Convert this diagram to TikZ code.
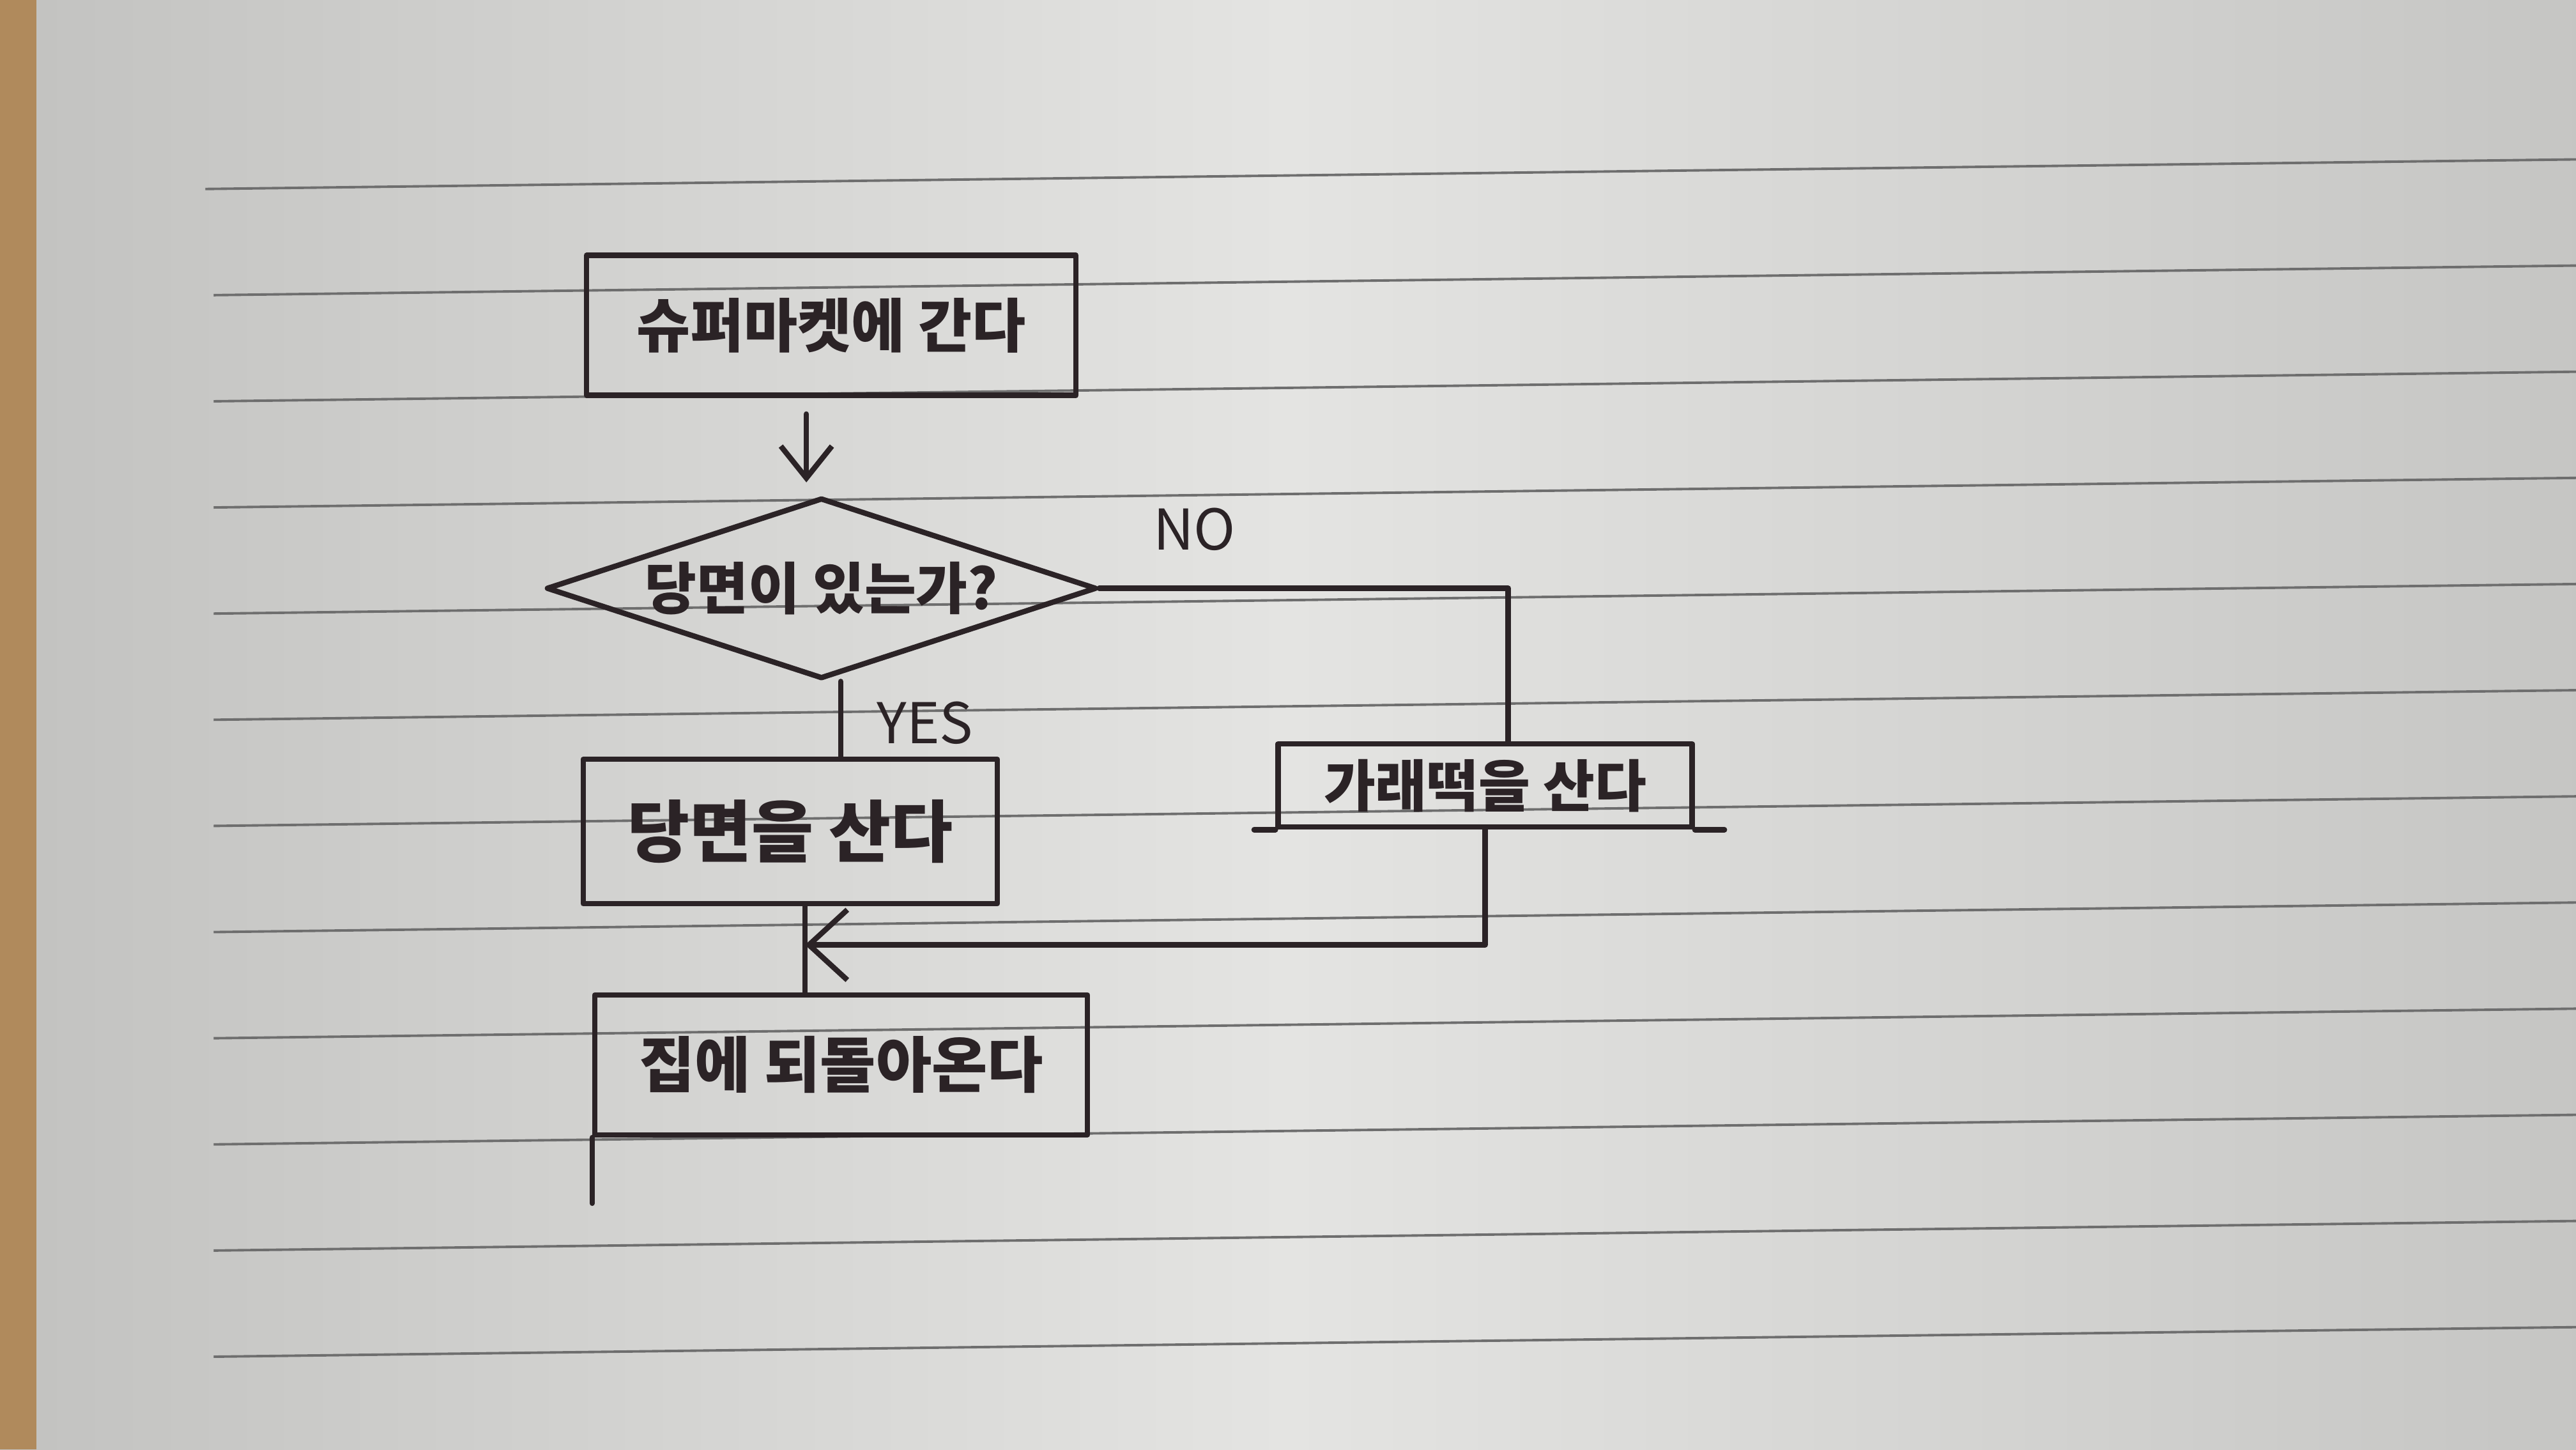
\documentclass[tikz,border=0pt]{standalone}
\usepackage{fontspec}
\newfontfamily\kr{Noto Sans CJK KR}
\usetikzlibrary{shapes.geometric,arrows.meta}
\definecolor{ink}{HTML}{2B2326}
\definecolor{paperA}{HTML}{C2C2C0}
\definecolor{paperB}{HTML}{E4E4E2}
\definecolor{rule}{HTML}{6E6E6E}
\definecolor{table}{HTML}{B08A5C}
\begin{document}
\begin{tikzpicture}[x=0.025714cm,y=-0.025714cm,
  pen/.style={line width=2.4pt, draw=ink, line cap=round, line join=round},
  procbox/.style={pen, rectangle, inner sep=0pt, text=ink, font=\kr\bfseries\fontsize{26}{30}\selectfont},
  decbox/.style={pen, diamond, inner sep=0pt, aspect=3, text=ink, font=\kr\bfseries\fontsize{25}{29}\selectfont},
  lbl/.style={text=ink, font=\kr\fontsize{25}{29}\selectfont, inner sep=0pt},
  downarrow/.style={pen, -{Straight Barb[length=0.5cm,width=0.8cm,line width=2.4pt]}},
  leftarrow/.style={pen, -{Straight Barb[length=0.6cm,width=1.1cm,line width=2.4pt]}},
  ruling/.style={draw=rule, line width=1.1pt}]
% paper
\useasboundingbox (0,0) rectangle (1568,882);
\shade[left color=paperA, right color=paperB] (0,0) rectangle (784,882);
\shade[left color=paperB, right color=paperA!90!paperB] (784,0) rectangle (1568,882);
\fill[table] (0,0) rectangle (22,882);
% ruled lines
\draw[ruling] (125,115) -- (1568,97);
\foreach \i in {1,...,11}{
  \draw[ruling] (130,{115+64.6*\i}) -- (1568,{97+64.6*\i});
}
% nodes
\node[procbox, minimum width=7.66cm, minimum height=2.19cm] (go) at (506,198) {슈퍼마켓에 간다};
\node[decbox, minimum width=8.61cm, minimum height=2.83cm] (q) at (500,358) {당면이 있는가?};
\node[procbox, minimum width=6.48cm, minimum height=2.26cm, font=\kr\bfseries\fontsize{30}{34}\selectfont] (yes) at (481,506) {당면을 산다};
\node[procbox, minimum width=6.48cm, minimum height=1.3cm, font=\kr\bfseries\fontsize{25}{29}\selectfont] (no) at (904,478) {가래떡을 산다};
\node[procbox, minimum width=7.71cm, minimum height=2.19cm, font=\kr\bfseries\fontsize{27}{31}\selectfont] (home) at (512,648) {집에 되돌아온다};
% labels
\node[lbl] (lyes) at (563,440) {YES};
\node[lbl] (lno) at (727,322) {NO};
% connectors
\draw[downarrow, shorten <=0.25cm, shorten >=0.2cm] ([xshift=-0.39cm]go.south) -- ([xshift=-0.39cm]go.south |- q.north);
\draw[pen] ([xshift=0.3cm]q.south) -- ([xshift=0.3cm]q.south |- yes.north);
\draw[pen] (q.east) -- ([xshift=0.36cm]no.north |- q.east) -- ([xshift=0.36cm]no.north);
\coordinate (m) at (490,575);
\draw[leftarrow] (no.south) |- (m);
\draw[pen] (yes.south -| m) -- (home.north -| m);
% hand-drawn overshoots
\draw[pen] (home.south west) -- ++(0,40);
\draw[pen] (no.south west) -- ++(-13,0);
\draw[pen] (no.south east) -- ++(18,0);
\end{tikzpicture}
\end{document}
